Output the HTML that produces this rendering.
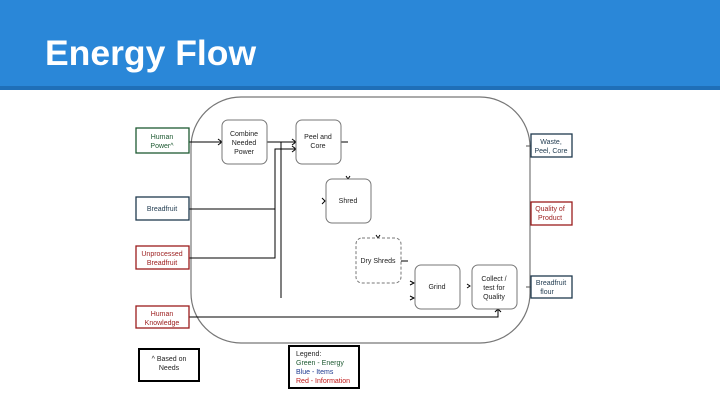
<!DOCTYPE html>
<html><head><style>
body{margin:0;width:720px;height:405px;overflow:hidden;background:#fff;font-family:"Liberation Sans",sans-serif;}
.hdr{position:absolute;left:0;top:0;width:720px;height:86px;background:#2a87d8;}
.hdr2{position:absolute;left:0;top:86px;width:720px;height:4px;background:#1f6fb8;}
.t{position:absolute;left:45px;top:33px;color:#fff;font-size:35.5px;font-weight:bold;}
svg{position:absolute;left:0;top:0}
text{font-family:"Liberation Sans",sans-serif;font-size:7px;text-anchor:middle}
</style></head><body>
<div class="hdr"></div><div class="hdr2"></div>
<div class="t">Energy Flow</div>
<svg width="720" height="405">
<rect x="191" y="97" width="339" height="246" rx="50" fill="none" stroke="#777" stroke-width="1.2"/>
<g stroke="#000" stroke-width="1" fill="none">
<line x1="189" y1="142" x2="222" y2="142"/>
<line x1="267" y1="142" x2="296" y2="142"/>
<line x1="281" y1="142" x2="281" y2="298"/>
<polyline points="189,209 275,209"/>
<polyline points="189,258 275,258 275,149 296,149"/>
<polyline points="189,317 498,317 498,309"/>
<line x1="341" y1="142" x2="348" y2="142"/>
<line x1="401" y1="261" x2="408" y2="261"/>
<line x1="531" y1="146" x2="526" y2="146" stroke="#555"/>
<line x1="531" y1="287" x2="526" y2="287" stroke="#555"/>
<path d="M218,139 l4,3 l-4,3 M292,139 l4,3 l-4,3 M292,146 l4,3 l-4,3 M322,198 l3,3 l-3,3 M346,176 l2,3 l2,-3 M376,235 l2,3 l2,-3 M410,281 l4,2 l-4,2 M410,296 l4,2 l-4,2 M467,284 l3,2 l-3,2 M495,312 l3,-3 l3,3"/>
</g>
<g fill="#fff" stroke-width="1.3">
<rect x="136" y="128" width="53" height="25" stroke="#1e5a32"/>
<rect x="136" y="197" width="53" height="23" stroke="#1f3a4f"/>
<rect x="136" y="246" width="53" height="23" stroke="#9b1c1c"/>
<rect x="136" y="306" width="53" height="22" stroke="#9b1c1c"/>
<rect x="531" y="134" width="41" height="23" stroke="#1f3a4f"/>
<rect x="531" y="202" width="41" height="23" stroke="#9b1c1c"/>
<rect x="531" y="276" width="41" height="22" stroke="#1f3a4f"/>
<rect x="139" y="349" width="60" height="32" stroke="#000" stroke-width="2"/>
<rect x="289" y="346" width="70" height="42" stroke="#000" stroke-width="2"/>
</g>
<g fill="#fff" stroke="#777" stroke-width="1">
<rect x="222" y="120" width="45" height="44" rx="6"/>
<rect x="296" y="120" width="45" height="44" rx="6"/>
<rect x="326" y="179" width="45" height="44" rx="6"/>
<rect x="356" y="238" width="45" height="45" rx="6" stroke-dasharray="3,2"/>
<rect x="415" y="265" width="45" height="44" rx="6"/>
<rect x="472" y="265" width="45" height="44" rx="6"/>
</g>
<g fill="#1e5a32"><text x="162" y="139">Human</text><text x="162" y="148">Power^</text></g>
<g fill="#1f3a4f"><text x="162" y="211">Breadfruit</text></g>
<g fill="#9b1c1c"><text x="162" y="256">Unprocessed</text><text x="162" y="265">Breadfruit</text>
<text x="162" y="316">Human</text><text x="162" y="325">Knowledge</text>
<text x="550" y="211">Quality of</text><text x="550" y="220">Product</text></g>
<g fill="#1f3a4f"><text x="551" y="144">Waste,</text><text x="551" y="153">Peel, Core</text>
<text x="551" y="285">Breadfruit</text><text x="547" y="294">flour</text></g>
<g fill="#222"><text x="244" y="136">Combine</text><text x="244" y="145">Needed</text><text x="244" y="154">Power</text>
<text x="318" y="139">Peel and</text><text x="318" y="148">Core</text>
<text x="348" y="203">Shred</text><text x="378" y="263">Dry Shreds</text>
<text x="437" y="289">Grind</text>
<text x="494" y="281">Collect /</text><text x="494" y="290">test for</text><text x="494" y="299">Quality</text>
<text x="169" y="361">^ Based on</text><text x="169" y="370">Needs</text>
<text x="296" y="356" style="text-anchor:start">Legend:</text>
<text x="296" y="365" style="text-anchor:start" fill="#1e5a32">Green - Energy</text>
<text x="296" y="374" style="text-anchor:start" fill="#1f3a8f">Blue - Items</text>
<text x="296" y="383" style="text-anchor:start" fill="#c01818">Red - Information</text></g>
</svg>
</body></html>
